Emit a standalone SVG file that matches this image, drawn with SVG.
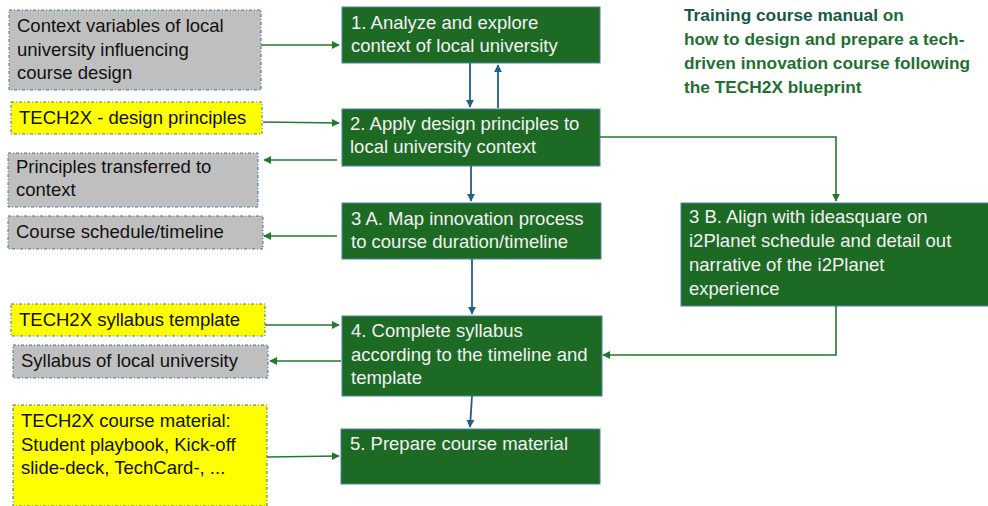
<svg xmlns="http://www.w3.org/2000/svg" width="988" height="506" viewBox="0 0 988 506">
  <style>
    .step rect { fill: #1d6a25; stroke: #4a86a8; stroke-width: 1; }
    .step text { fill: #f2f2f2; font-family: "Liberation Sans", Arial, sans-serif; font-size: 18.5px; }
    .gray rect { fill: #bfbfbf; stroke: #3a75a0; stroke-width: 1; stroke-dasharray: 3 2 1 2; }
    .yellow rect { fill: #ffff00; stroke: #3a75a0; stroke-width: 1; stroke-dasharray: 3 2 1 2; }
    .gray text, .yellow text { fill: #111; font-family: "Liberation Sans", Arial, sans-serif; font-size: 18.5px; }
    .g { fill: none; stroke: #217a2e; stroke-width: 1.6; marker-end: url(#ag); }
    .b { fill: none; stroke: #1f5f8b; stroke-width: 1.8; marker-end: url(#ab); }
    .title { font-family: "Liberation Sans", Arial, sans-serif; font-size: 17.3px; font-weight: 700; fill: #1f7030; }
  </style>
  <defs>
    <marker id="ag" viewBox="0 0 10 10" refX="9" refY="5" markerWidth="5" markerHeight="5" orient="auto" markerUnits="strokeWidth">
      <path d="M0,0 L10,5 L0,10 z" fill="#217a2e"/>
    </marker>
    <marker id="ab" viewBox="0 0 10 10" refX="9" refY="5" markerWidth="4.5" markerHeight="4.5" orient="auto" markerUnits="strokeWidth">
      <path d="M0,0 L10,5 L0,10 z" fill="#1f5f8b"/>
    </marker>
  </defs>

  <!-- heading -->
  <g id="title" class="title">
    <text x="684" y="21"><tspan fill="#17584a">Training course manual</tspan> on</text>
    <text x="684" y="45">how to design and prepare a tech-</text>
    <text x="684" y="69">driven innovation course following</text>
    <text x="684" y="93">the TECH2X blueprint</text>
  </g>

  <!-- input / output boxes -->
  <g id="context-variables" class="gray">
    <rect x="9" y="10" width="252" height="80"/>
    <text x="17" y="32">Context variables of local</text>
    <text x="17" y="55.5">university influencing</text>
    <text x="17" y="79">course design</text>
  </g>
  <g id="design-principles" class="yellow">
    <rect x="11" y="102" width="251" height="32"/>
    <text x="19" y="124">TECH2X - design principles</text>
  </g>
  <g id="principles-transferred" class="gray">
    <rect x="8" y="153" width="250" height="54"/>
    <text x="16" y="173">Principles transferred to</text>
    <text x="16" y="196">context</text>
  </g>
  <g id="course-schedule" class="gray">
    <rect x="8" y="216" width="255" height="33"/>
    <text x="16" y="238">Course schedule/timeline</text>
  </g>
  <g id="syllabus-template" class="yellow">
    <rect x="11" y="304" width="254" height="32"/>
    <text x="19" y="326">TECH2X syllabus template</text>
  </g>
  <g id="local-syllabus" class="gray">
    <rect x="13" y="345" width="255" height="33"/>
    <text x="21" y="367">Syllabus of local university</text>
  </g>
  <g id="course-material" class="yellow">
    <rect x="13" y="405" width="254" height="101"/>
    <text x="21" y="427">TECH2X course material:</text>
    <text x="21" y="450.5">Student playbook, Kick-off</text>
    <text x="21" y="474">slide-deck, TechCard-, ...</text>
  </g>

  <!-- process steps -->
  <g id="step1" class="step">
    <rect x="342" y="7" width="258" height="56"/>
    <text x="351" y="29">1. Analyze and explore</text>
    <text x="351" y="52">context of local university</text>
  </g>
  <g id="step2" class="step">
    <rect x="342" y="109" width="258" height="57"/>
    <text x="350" y="130">2. Apply design principles to</text>
    <text x="350" y="153">local university context</text>
  </g>
  <g id="step3a" class="step">
    <rect x="342" y="203" width="259" height="56"/>
    <text x="351" y="225">3 A. Map innovation process</text>
    <text x="351" y="248">to course duration/timeline</text>
  </g>
  <g id="step3b" class="step">
    <rect x="681" y="203" width="320" height="103"/>
    <text x="689" y="223">3 B. Align with ideasquare on</text>
    <text x="689" y="247">i2Planet schedule and detail out</text>
    <text x="689" y="271">narrative of the i2Planet</text>
    <text x="689" y="295">experience</text>
  </g>
  <g id="step4" class="step">
    <rect x="342" y="316" width="260" height="80"/>
    <text x="351" y="337">4. Complete syllabus</text>
    <text x="351" y="361">according to the timeline and</text>
    <text x="351" y="384">template</text>
  </g>
  <g id="step5" class="step">
    <rect x="341" y="429" width="259" height="55"/>
    <text x="350" y="450">5. Prepare course material</text>
  </g>

  <!-- connectors -->
  <g id="connectors">
    <path class="g" d="M261,45 L339,45"/>
    <path class="g" d="M263,122 L339,123"/>
    <path class="g" d="M337,160 L264,160"/>
    <path class="g" d="M337,236 L264,236"/>
    <path class="g" d="M265,325 L339,325"/>
    <path class="g" d="M341,361 L270,361"/>
    <path class="g" d="M267,457 L339,456"/>
    <path class="g" d="M600,137 L836,137 L836,201"/>
    <path class="g" d="M836,306 L836,355 L603,355"/>
    <path class="b" d="M470,63 L470,107"/>
    <path class="b" d="M498,108 L498,65"/>
    <path class="b" d="M471,166 L471,201"/>
    <path class="b" d="M472,259 L472,314"/>
    <path class="b" d="M472,396 L470,427"/>
  </g>
</svg>
